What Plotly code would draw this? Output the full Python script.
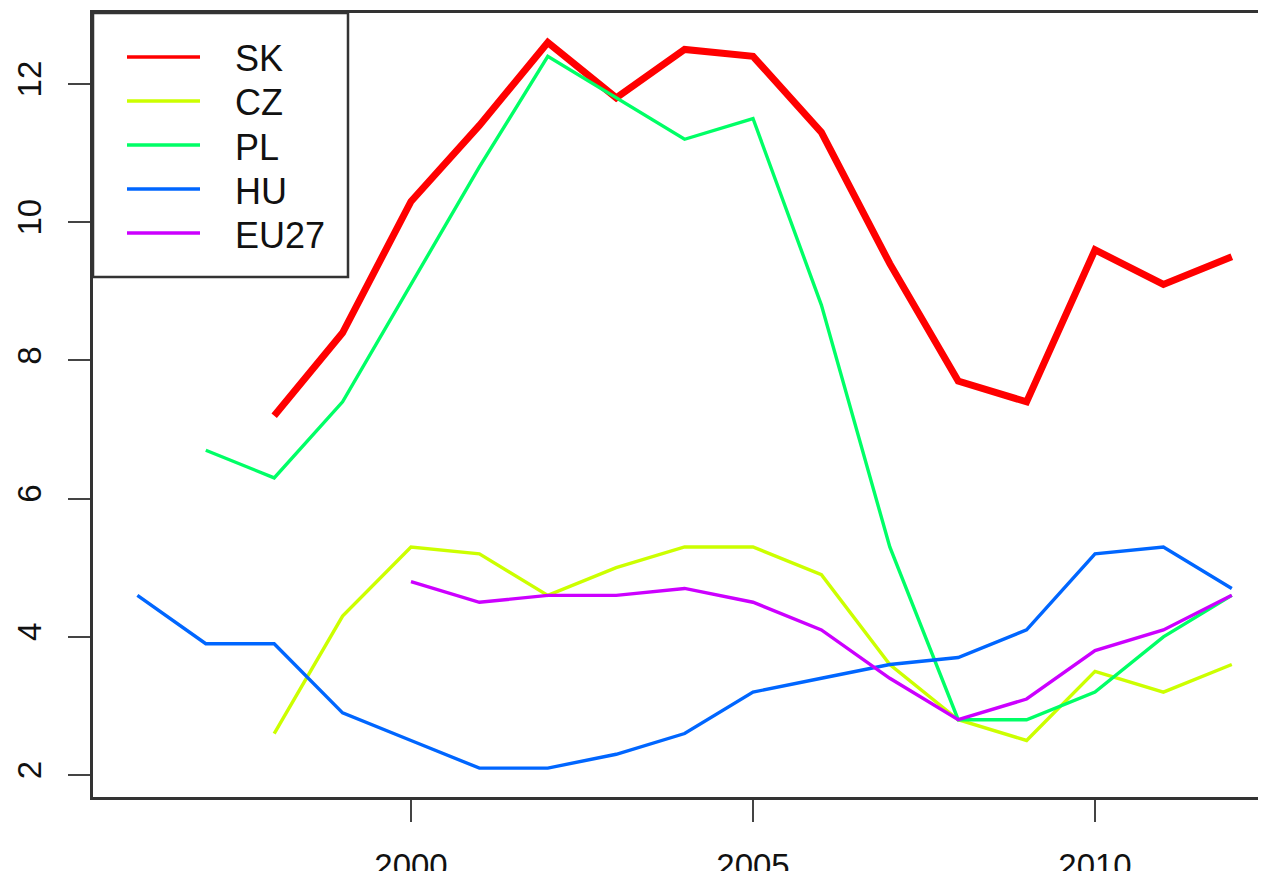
import plotly.graph_objects as go

# ---- data ----
years_sk = list(range(1998, 2013))
sk = [7.2, 8.4, 10.3, 11.4, 12.6, 11.8, 12.5, 12.4, 11.3, 9.4, 7.7, 7.4, 9.6, 9.1, 9.5]

years_cz = list(range(1998, 2013))
cz = [2.6, 4.3, 5.3, 5.2, 4.6, 5.0, 5.3, 5.3, 4.9, 3.6, 2.8, 2.5, 3.5, 3.2, 3.6]

years_pl = list(range(1997, 2013))
pl = [6.7, 6.3, 7.4, 9.1, 10.8, 12.4, 11.8, 11.2, 11.5, 8.8, 5.3, 2.8, 2.8, 3.2, 4.0, 4.6]

years_hu = list(range(1996, 2013))
hu = [4.6, 3.9, 3.9, 2.9, 2.5, 2.1, 2.1, 2.3, 2.6, 3.2, 3.4, 3.6, 3.7, 4.1, 5.2, 5.3, 4.7]

years_eu = list(range(2000, 2013))
eu27 = [4.8, 4.5, 4.6, 4.6, 4.7, 4.5, 4.1, 3.4, 2.8, 3.1, 3.8, 4.1, 4.6]

names = ["SK", "CZ", "PL", "HU", "EU27"]
colors = ["#FF0000", "#CCFF00", "#00FF66", "#0066FF", "#CC00FF"]
widths = [7, 3.4, 3.4, 3.4, 3.4]
xs = [years_sk, years_cz, years_pl, years_hu, years_eu]
ys = [sk, cz, pl, hu, eu27]

x_ticks = [2000, 2005, 2010]
y_ticks = [2, 4, 6, 8, 10, 12]

# page offset compensation (body margin of the page)
OFF = 8
W, H = 1266, 871
L, T = 93 - OFF, 13 - OFF
B = H - (797 - OFF)
R = OFF
PW, PH = W - L - R, H - T - B

FONT = "Liberation Sans, Arial, sans-serif"

fig = go.Figure()
for n, c, w, x, y in zip(names, colors, widths, xs, ys):
    fig.add_trace(go.Scatter(x=x, y=y, mode="lines", name=n,
                             line=dict(color=c, width=w), showlegend=False))

def px(xp):
    return (xp - OFF - L) / PW

def py(yp):
    return (797 - yp) / PH

# manual legend (R style box)
fig.add_shape(type="rect", xref="paper", yref="paper",
              x0=px(93), x1=px(348), y0=py(277), y1=py(13),
              line=dict(color="#333333", width=2.5), fillcolor="white", layer="above")
row0, dy = 59, 44
for i, (n, c) in enumerate(zip(names, colors)):
    yy = py(row0 + i * dy)
    fig.add_shape(type="line", xref="paper", yref="paper",
                  x0=px(127), x1=px(200), y0=py(57 + i * dy), y1=py(57 + i * dy),
                  line=dict(color=c, width=3.6), layer="above")
    fig.add_annotation(xref="paper", yref="paper", x=px(233), y=yy,
                       text=n, showarrow=False, xanchor="left", yanchor="middle",
                       font=dict(family=FONT, size=36, color="#111111"))

fig.update_layout(
    width=W, height=H,
    margin=dict(l=L, r=R, t=T, b=B),
    paper_bgcolor="white", plot_bgcolor="white",
    font=dict(family=FONT, size=33, color="#111111"),
    xaxis=dict(range=[1995.351, 2012.5], tickvals=x_ticks, showgrid=False,
               zeroline=False, showline=True, linecolor="#333333", linewidth=2.5,
               mirror=True, ticks="outside", ticklen=22, tickwidth=2,
               tickcolor="#444444", ticklabelstandoff=16, automargin=False,
               tickfont=dict(family=FONT, size=33, color="#111111")),
    yaxis=dict(range=[1.682, 13.027], tickvals=y_ticks, showgrid=False,
               zeroline=False, showline=True, linecolor="#333333", linewidth=2.5,
               mirror=False, ticks="outside", ticklen=22, tickwidth=2,
               tickcolor="#444444", tickangle=-90, ticklabelstandoff=14,
               automargin=False,
               tickfont=dict(family=FONT, size=33, color="#111111")),
)

fig.write_html("out.html")
